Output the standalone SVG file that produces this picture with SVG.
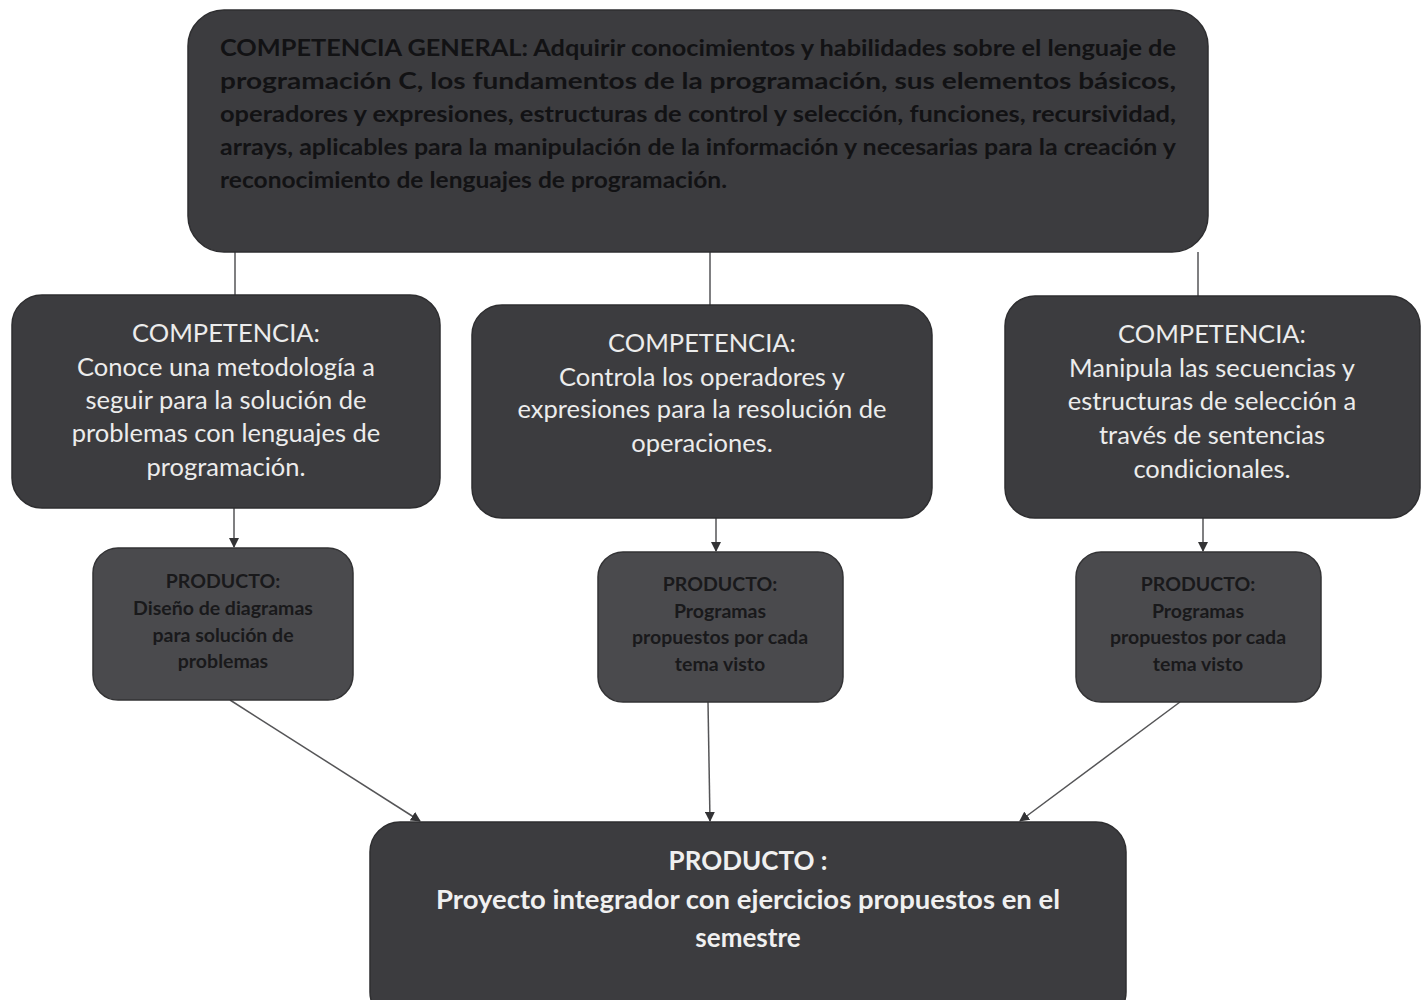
<svg xmlns="http://www.w3.org/2000/svg" width="1424" height="1000" viewBox="0 0 1424 1000">
<defs>
<style>
.box{fill:#3c3c3f;stroke:#2e2e30;stroke-width:1.5}
.prod{fill:#4a4a4d;stroke:#333335;stroke-width:1.5}
.gen{font-family:Lato,"Open Sans",sans-serif;font-size:22px;font-weight:bold;fill:#121214}
.comp{font-family:Lato,"Open Sans",sans-serif;font-size:25.5px;fill:#ececec;text-anchor:middle}
.ptxt{font-family:Lato,"Open Sans",sans-serif;font-size:19.5px;font-weight:bold;fill:#19191b;text-anchor:middle}
.fin{font-family:Lato,"Open Sans",sans-serif;font-size:26px;font-weight:bold;fill:#f0f0f0;text-anchor:middle}
.ln{stroke:#555557;stroke-width:1.5;fill:none}
</style>
<marker id="ah" viewBox="0 0 10 10" refX="9" refY="5" markerWidth="10" markerHeight="10" markerUnits="userSpaceOnUse" orient="auto">
<path d="M0,0 L10,5 L0,10 z" fill="#333335"/>
</marker>
</defs>
<rect width="1424" height="1000" fill="#ffffff"/>
<g id="connectors">
<line class="ln" x1="235" y1="252" x2="235" y2="297"/>
<line class="ln" x1="710" y1="252" x2="710" y2="306"/>
<line class="ln" x1="1198" y1="252" x2="1198" y2="298"/>
<line class="ln" x1="234" y1="508" x2="234" y2="547" marker-end="url(#ah)"/>
<line class="ln" x1="716" y1="518" x2="716" y2="551" marker-end="url(#ah)"/>
<line class="ln" x1="1203" y1="518" x2="1203" y2="551" marker-end="url(#ah)"/>
<line class="ln" x1="230" y1="700" x2="420" y2="821" marker-end="url(#ah)"/>
<line class="ln" x1="708" y1="702" x2="710" y2="821" marker-end="url(#ah)"/>
<line class="ln" x1="1180" y1="702" x2="1020" y2="821" marker-end="url(#ah)"/>
</g>
<g id="general">
<rect class="box" x="188" y="10" width="1020" height="242" rx="36"/>
<text class="gen" x="220" y="56" textLength="956" lengthAdjust="spacingAndGlyphs">COMPETENCIA GENERAL: Adquirir conocimientos y habilidades sobre el lenguaje de</text>
<text class="gen" x="220" y="89" textLength="956" lengthAdjust="spacingAndGlyphs">programación C, los fundamentos de la programación, sus elementos básicos,</text>
<text class="gen" x="220" y="122" textLength="956" lengthAdjust="spacingAndGlyphs">operadores y expresiones, estructuras de control y selección, funciones, recursividad,</text>
<text class="gen" x="220" y="155" textLength="956" lengthAdjust="spacingAndGlyphs">arrays, aplicables para la manipulación de la información y necesarias para la creación y</text>
<text class="gen" x="220" y="188" textLength="507" lengthAdjust="spacingAndGlyphs">reconocimiento de lenguajes de programación.</text>
</g>
<g id="comp1">
<rect class="box" x="12" y="295" width="428" height="213" rx="30"/>
<text class="comp" x="226" y="342">COMPETENCIA:</text>
<text class="comp" x="226" y="376">Conoce una metodología a</text>
<text class="comp" x="226" y="409">seguir para la solución de</text>
<text class="comp" x="226" y="442">problemas con lenguajes de</text>
<text class="comp" x="226" y="476">programación.</text>
</g>
<g id="comp2">
<rect class="box" x="472" y="305" width="460" height="213" rx="30"/>
<text class="comp" x="702" y="352">COMPETENCIA:</text>
<text class="comp" x="702" y="386">Controla los operadores y</text>
<text class="comp" x="702" y="418">expresiones para la resolución de</text>
<text class="comp" x="702" y="452">operaciones.</text>
</g>
<g id="comp3">
<rect class="box" x="1005" y="296" width="415" height="222" rx="30"/>
<text class="comp" x="1212" y="343">COMPETENCIA:</text>
<text class="comp" x="1212" y="377">Manipula las secuencias y</text>
<text class="comp" x="1212" y="410">estructuras de selección a</text>
<text class="comp" x="1212" y="444">través de sentencias</text>
<text class="comp" x="1212" y="478">condicionales.</text>
</g>
<g id="prod1">
<rect class="prod" x="93" y="548" width="260" height="152" rx="25"/>
<text class="ptxt" x="223" y="588">PRODUCTO:</text>
<text class="ptxt" x="223" y="615">Diseño de diagramas</text>
<text class="ptxt" x="223" y="642">para solución de</text>
<text class="ptxt" x="223" y="668">problemas</text>
</g>
<g id="prod2">
<rect class="prod" x="598" y="552" width="245" height="150" rx="25"/>
<text class="ptxt" x="720" y="591">PRODUCTO:</text>
<text class="ptxt" x="720" y="618">Programas</text>
<text class="ptxt" x="720" y="644">propuestos por cada</text>
<text class="ptxt" x="720" y="671">tema visto</text>
</g>
<g id="prod3">
<rect class="prod" x="1076" y="552" width="245" height="150" rx="25"/>
<text class="ptxt" x="1198" y="591">PRODUCTO:</text>
<text class="ptxt" x="1198" y="618">Programas</text>
<text class="ptxt" x="1198" y="644">propuestos por cada</text>
<text class="ptxt" x="1198" y="671">tema visto</text>
</g>
<g id="final">
<rect class="box" x="370" y="822" width="756" height="200" rx="30"/>
<text class="fin" x="748" y="870">PRODUCTO :</text>
<text class="fin" x="748" y="909" textLength="624" lengthAdjust="spacingAndGlyphs">Proyecto integrador con ejercicios propuestos en el</text>
<text class="fin" x="748" y="947">semestre</text>
</g>
</svg>
